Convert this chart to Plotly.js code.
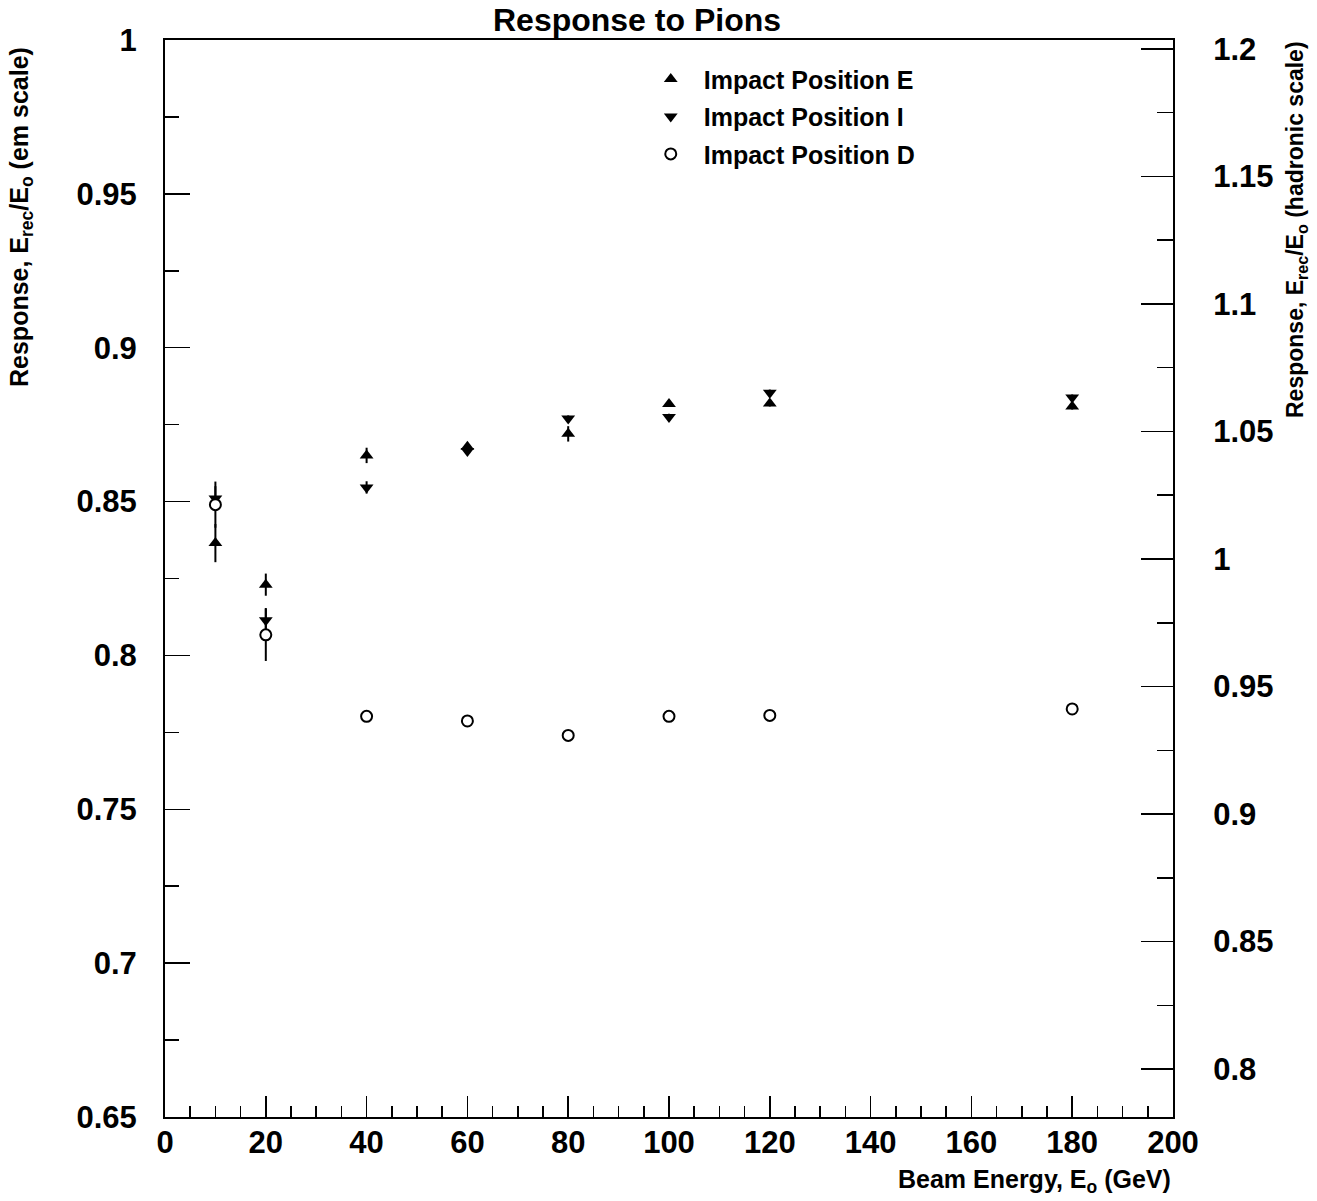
<!DOCTYPE html>
<html>
<head>
<meta charset="utf-8">
<script src="https://cdn.plot.ly/plotly-3.0.1.min.js"></script>
<style>html,body{margin:0;padding:0;background:#fff;}#chart{width:1317px;height:1201px;}</style>
</head>
<body>
<div id="chart"></div>
<script>
// Beam energies (GeV)
const energies = [10, 20, 40, 60, 80, 100, 120, 180];
// Impact Position E (triangle up)
const respE    = [0.8365, 0.823, 0.865, 0.8678, 0.872, 0.8817, 0.8819, 0.8809];
const errE     = [0.0062, 0.0036, 0.0025, 0.001, 0.0025, 0.001, 0.001, 0.001];
// Impact Position I (triangle down)
const respI    = [0.851, 0.8114, 0.8546, 0.8664, 0.877, 0.8775, 0.8854, 0.8838];
const errI     = [0.004, 0.004, 0.002, 0.001, 0.001, 0.001, 0.001, 0.001];
// Impact Position D (open circle)
const respD    = [0.849, 0.8067, 0.7802, 0.7787, 0.774, 0.7802, 0.7805, 0.7826];
const errD     = [0.0075, 0.0085, 0.0015, 0.001, 0.0005, 0.0012, 0.0005, 0.0005];

const seriesNames = ['Impact Position E', 'Impact Position I', 'Impact Position D'];

// Axis ranges
const xRange = [0, 200];
const yLeftRange = [0.65, 1.0];
const yRightRange = [0.7812, 1.2035];

const FONT = 'Liberation Sans, Arial, Helvetica, sans-serif';

function errBar(arr) {
  return {type: 'data', array: arr, visible: true, color: '#000', thickness: 2, width: 0};
}

const traces = [
  {x: energies, y: respE, name: seriesNames[0], type: 'scatter', mode: 'markers', legendgroup: 'a',
   marker: {symbol: 'triangle-up', size: 12, color: '#000'}, error_y: errBar(errE)},
  {x: energies, y: respI, name: seriesNames[1], type: 'scatter', mode: 'markers', legendgroup: 'b',
   marker: {symbol: 'triangle-down', size: 12, color: '#000'}, error_y: errBar(errI)},
  {x: energies, y: respD, name: seriesNames[2], type: 'scatter', mode: 'markers', legendgroup: 'c',
   marker: {symbol: 'circle', size: 11, color: '#fff', line: {width: 2, color: '#000'}}, error_y: errBar(errD)},
  {x: [], y: [], yaxis: 'y2', showlegend: false, type: 'scatter', mode: 'markers', hoverinfo: 'skip'}
];

const tickFont = {family: FONT, size: 31, color: '#000', weight: 'bold'};

const layout = {
  width: 1317, height: 1201,
  margin: {l: 165, r: 144, t: 40, b: 84},
  paper_bgcolor: '#fff', plot_bgcolor: '#fff',
  showlegend: true,
  font: {family: FONT, color: '#000'},
  title: {text: 'Response to Pions', font: {family: FONT, size: 32, color: '#000', weight: 'bold'},
          x: 637/1317, xanchor: 'center', y: 1 - 20/1201, yanchor: 'middle', xref: 'container', yref: 'container'},
  legend: {x: 0.469, y: 0.985, xanchor: 'left', yanchor: 'top', bgcolor: 'rgba(0,0,0,0)',
           font: {family: FONT, size: 25, color: '#000', weight: 'bold'},
           traceorder: 'grouped', tracegroupgap: 2, itemwidth: 56},
  xaxis: {range: xRange, dtick: 20, tick0: 0, ticks: 'inside', ticklen: 21, tickwidth: 1.5, tickcolor: '#000',
          showline: true, linewidth: 2, linecolor: '#000', mirror: true, showgrid: false, zeroline: false,
          tickfont: tickFont, ticklabelstandoff: -3,
          minor: {dtick: 5, ticks: 'inside', ticklen: 11, tickwidth: 1.5, tickcolor: '#000', showgrid: false}},
  yaxis: {range: yLeftRange, dtick: 0.05, tick0: 0.65, ticks: 'inside', ticklen: 25, tickwidth: 1.5, tickcolor: '#000',
          showline: true, linewidth: 2, linecolor: '#000', showgrid: false, zeroline: false,
          tickfont: tickFont, ticklabelstandoff: 20,
          minor: {dtick: 0.025, ticks: 'inside', ticklen: 14, tickwidth: 1.5, tickcolor: '#000', showgrid: false}},
  yaxis2: {range: yRightRange, overlaying: 'y', side: 'right', dtick: 0.05, tick0: 0.8, ticks: 'inside', ticklen: 32,
           tickwidth: 1.5, tickcolor: '#000', showline: true, linewidth: 2, linecolor: '#000', showgrid: false,
           zeroline: false, tickfont: tickFont, ticklabelstandoff: 32,
           minor: {dtick: 0.025, ticks: 'inside', ticklen: 16, tickwidth: 1.5, tickcolor: '#000', showgrid: false}},
  annotations: [
    {text: 'Response, E<sub>rec</sub>/E<sub>o</sub> (em scale)', xref: 'paper', yref: 'paper',
     x: (21-165)/1008, y: (1117-217)/1077, xanchor: 'center', yanchor: 'middle', textangle: -90, showarrow: false,
     font: {family: FONT, size: 25, color: '#000', weight: 'bold'}},
    {text: 'Response, E<sub>rec</sub>/E<sub>o</sub> (hadronic scale)', xref: 'paper', yref: 'paper',
     x: (1296-165)/1008, y: (1117-230)/1077, xanchor: 'center', yanchor: 'middle', textangle: -90, showarrow: false,
     font: {family: FONT, size: 23, color: '#000', weight: 'bold'}},
    {text: 'Beam Energy, E<sub>o</sub> (GeV)', xref: 'paper', yref: 'paper',
     x: 1.0, y: (1117-1181)/1077, xanchor: 'right', yanchor: 'middle', showarrow: false,
     font: {family: FONT, size: 25, color: '#000', weight: 'bold'}}
  ]
};

Plotly.newPlot('chart', traces, layout, {displayModeBar: false, staticPlot: true});
</script>
</body>
</html>
